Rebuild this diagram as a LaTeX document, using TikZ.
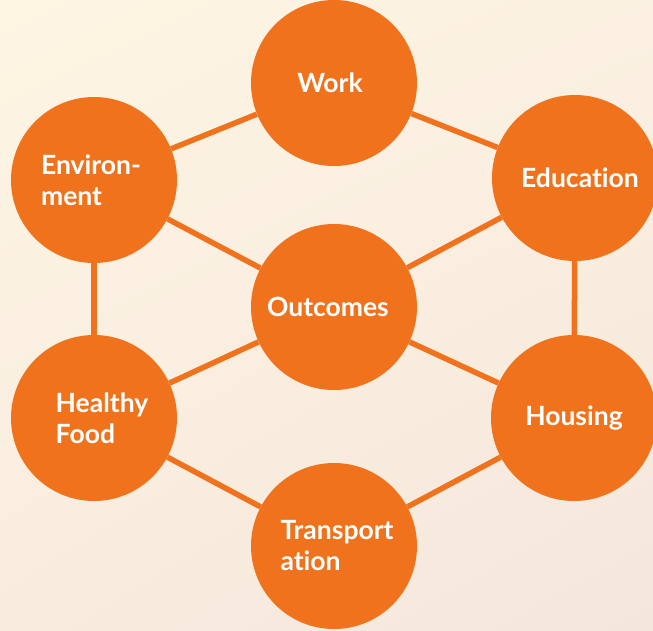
\documentclass[tikz,border=0pt]{standalone}
\usepackage{fontspec}
\setmainfont{Lato}[Ligatures={NoCommon,NoContextual}]
\usetikzlibrary{shadings}
\definecolor{hubOrange}{HTML}{F0721C}
\definecolor{bgTop}{HTML}{FEF5E3}
\definecolor{bgBottom}{HTML}{F4E6DC}
\newcommand{\DIAM}{166pt}

\tikzset{
  hub/.style={circle, fill=hubOrange, minimum size=\DIAM, inner sep=0pt,
    text=white, align=left, font=\fontsize{26.5}{31}\selectfont\bfseries},
  link/.style={draw=hubOrange, line width=5.5pt}
}

\begin{document}
\begin{tikzpicture}[x=1pt, y=-1pt]
    % background
    \shade[upper left=bgTop, upper right=bgTop!70!bgBottom,
           lower left=bgTop!40!bgBottom, lower right=bgBottom]
        (0,0) rectangle (653,630);
    \useasboundingbox (0,0) rectangle (653,630);

    \node[hub] (work)    at (334,83)  {\hspace*{-8pt}Work};
    \node[hub] (env)     at (94,180)  {\hspace*{-6pt}Environ-\\\hspace*{-6pt}ment};
    \node[hub] (edu)     at (575,178) {\hspace*{10pt}Education};
    \node[hub] (out)     at (334,307) {\hspace*{-12pt}Outcomes};
    \node[hub] (food)    at (94,418)  {\hspace*{16pt}Healthy\\\hspace*{16pt}Food};
    \node[hub] (housing) at (574,418) {Housing};
    \node[hub] (trans)   at (334,546) {\hspace*{6pt}Transport\\\hspace*{6pt}ation};

    \draw[link] (work) -- (env);
    \draw[link] (work) -- (edu);
    \draw[link] (env) -- (out);
    \draw[link] (edu) -- (out);
    \draw[link] (env) -- (food);
    \draw[link] (edu) -- (housing);
    \draw[link] (out) -- (food);
    \draw[link] (out) -- (housing);
    \draw[link] (food) -- (trans);
    \draw[link] (housing) -- (trans);
\end{tikzpicture}
\end{document}
